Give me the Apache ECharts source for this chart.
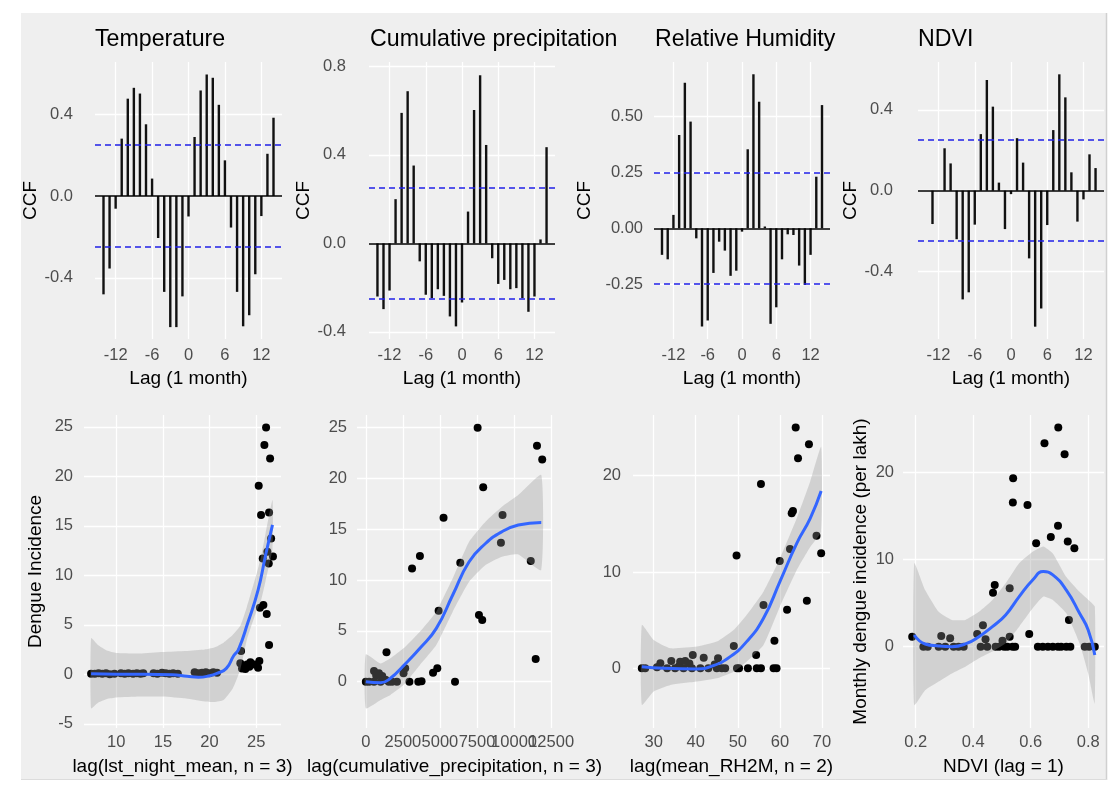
<!DOCTYPE html>
<html><head><meta charset="utf-8">
<script src="https://cdn.jsdelivr.net/npm/echarts@6/dist/echarts.min.js"></script>
<style>html,body{margin:0;padding:0;background:#fff}#c{width:1120px;height:789px}</style>
</head><body><div id="c"></div><script>
// ---------- DATA ----------
const lags = [-14,-13,-12,-11,-10,-9,-8,-7,-6,-5,-4,-3,-2,-1,0,1,2,3,4,5,6,7,8,9,10,11,12,13,14];
const tempCCF = [-0.48,-0.354,-0.062,0.28,0.475,0.528,0.50,0.35,0.085,-0.205,-0.468,-0.64,-0.64,-0.49,-0.10,0.288,0.515,0.593,0.577,0.445,0.174,-0.154,-0.468,-0.636,-0.582,-0.382,-0.098,0.206,0.382];
const precipCCF = [-0.24,-0.297,-0.213,0.2,0.59,0.688,0.352,-0.081,-0.232,-0.247,-0.207,-0.237,-0.33,-0.375,-0.267,0.144,0.603,0.76,0.445,-0.067,-0.183,-0.165,-0.207,-0.202,-0.247,-0.309,-0.24,0.018,0.435];
const rhCCF = [-0.119,-0.139,0.06,0.418,0.652,0.478,-0.045,-0.44,-0.413,-0.2,-0.06,-0.10,-0.213,-0.19,-0.015,0.354,0.69,0.567,0.008,-0.428,-0.354,-0.139,-0.027,-0.03,-0.167,-0.254,-0.119,0.231,0.552];
const ndviCCF = [0.0,-0.165,0.0,0.21,0.135,-0.24,-0.538,-0.503,-0.168,0.28,0.548,0.416,0.04,-0.19,-0.017,0.26,0.139,-0.335,-0.673,-0.583,-0.17,0.30,0.576,0.462,0.091,-0.153,-0.043,0.18,0.112];
const ccfConf = 0.25;
const ccfTitles = ['Temperature','Cumulative precipitation','Relative Humidity','NDVI'];

const tempPoints = [[26.06,24.93],[25.88,23.15],[26.49,21.8],[25.27,19.04],[25.52,16.08],[26.38,16.35],[26.6,13.73],[25.7,11.71],[26.2,12.38],[26.35,11.2],[26.8,11.91],[25.4,6.73],[25.77,7.0],[26.13,6.09],[26.38,2.96],[23.38,2.36],[23.3,1.11],[23.48,0.6],[24.02,1.0],[24.38,1.21],[24.84,1.0],[25.34,1.35],[25.2,0.67],[24.27,0.77],[23.84,0.54],
  [7.3,0.05],[7.7,0.05],[8.1,0.1],[8.5,0.05],[8.9,0.1],[9.3,0.0],[9.8,0.05],[10.5,0.1],[10.9,0.05],[11.3,0.1],[11.8,0.05],[12.2,0.1],[12.6,0.05],[12.9,0.1],[14.0,0.1],[14.4,0.05],[14.9,0.15],[15.3,0.1],[15.7,0.05],[16.1,0.1],[16.6,0.05],[18.4,0.2],[18.8,0.1],[19.2,0.15],[19.6,0.2],[20.0,0.1],[20.4,0.2],[20.8,0.15]];
const tempFit = [[7.3,0.05],[10,0.0],[13,0.0],[16,-0.05],[17.6,-0.2],[18.8,-0.3],[20,-0.15],[20.8,0.1],[21.8,0.6],[22.6,1.9],[23.1,2.5],[24.1,5.2],[25.2,8.5],[26.0,12.0],[26.75,15.1]];
const tempBand = [[7.3,-3.45,3.65],[8,-2.9,3.0],[9,-2.5,2.4],[10,-2.35,2.15],[12.5,-2.25,2.1],[15,-2.25,2.25],[17.5,-2.45,2.35],[19.5,-2.75,2.5],[20.5,-2.8,2.7],[21.5,-2.6,3.2],[22.5,-1.4,4.0],[23.3,0.5,4.9],[24.0,3.5,6.8],[25.0,6.3,10.0],[25.5,7.4,11.8],[26.0,9.4,14.2],[26.75,12.7,17.6]];

const precipPoints = [[7543,25.0],[11547,23.23],[11900,21.88],[7919,19.13],[5243,16.14],[9224,16.4],[9114,13.68],[3650,12.37],[3119,11.15],[6371,11.71],[11127,11.88],[4911,6.99],[7632,6.56],[7853,6.07],[1394,2.89],[11459,2.23],[2654,1.31],[2544,0.82],[4822,1.31],[4535,0.89],[553,1.05],[885,0.82],[1106,0.56],[6017,0],[3760,0.03],[3540,0],[2942,0],[2101,0],[1770,0],[1548,0],[0,0],[221,0],[553,0],[995,0],[1327,0.2],[700,0.6]];
const precipFit = [[0,0],[995,-0.1],[1659,0.33],[2544,1.57],[3650,3.28],[4756,5.25],[5862,8.53],[6968,11.8],[8074,13.6],[9180,14.76],[10286,15.42],[11834,15.68]];
const precipBand = [[0,-2.62,2.69],[995,-1.8,1.8],[1659,-1.3,2.3],[2544,-0.33,3.28],[3650,1.64,4.92],[4756,3.6,6.89],[5862,6.89,10.17],[6968,9.84,13.78],[8074,11.48,15.75],[9180,12.3,17.22],[10286,12.53,18.37],[11834,10.99,20.34]];

const rhPoints = [[63.75,25.0],[66.9,23.25],[64.3,21.8],[55.5,19.13],[62.8,16.09],[63.1,16.33],[68.7,13.77],[62.4,12.39],[69.8,11.94],[49.7,11.7],[59.96,11.14],[56.1,6.57],[66.4,7.02],[61.7,6.09],[58.7,2.87],[49.05,2.32],[54.35,1.38],[39.3,1.38],[41.9,1.1],[45.3,1.04],[34.2,0.76],[36.3,0.69],[37.5,0.76],[31.6,0.52],
  [27.2,0],[28.0,0],[30.8,0.1],[33.2,0],[35.1,0],[37.1,0],[39.1,0],[41.1,0],[43.0,0],[45.0,0],[46.2,0],[47.0,0],[49.8,0],[50.3,0],[52.4,0],[54.5,0],[55.5,0],[58.5,0],[59.2,0],[38.5,0.5],[36.0,0.2],[44.5,0.4]];
const rhFit = [[27.2,0.17],[32.4,0],[40.3,-0.07],[44.2,0.28],[48.2,1.21],[52.1,2.77],[56.1,5.19],[60,9.0],[64,12.98],[67.2,15.57],[69.8,18.41]];
const rhBand = [[27.2,-3.8,4.5],[30,-2.4,2.94],[34,-1.73,2.08],[40.3,-1.38,2.25],[45,-1.04,2.77],[49,-0.35,3.98],[52.1,0.69,5.54],[56.1,2.42,7.96],[60,6.4,11.4],[64,10.2,15.57],[67.2,12.6,19.4],[69.8,14.2,23.0]];

const ndviPoints = [[0.696,25.17],[0.648,23.37],[0.718,22.1],[0.539,19.35],[0.538,16.55],[0.589,16.28],[0.695,13.87],[0.67,12.6],[0.619,11.88],[0.729,12.07],[0.752,11.3],[0.475,7.09],[0.469,6.2],[0.527,6.7],[0.733,3.07],[0.434,2.45],[0.414,1.46],[0.595,1.46],[0.188,1.15],[0.289,1.23],[0.32,0.96],[0.527,1.15],[0.443,0.84],[0.502,0.69],
  [0.227,0],[0.242,0],[0.28,0],[0.303,0],[0.332,0],[0.349,0],[0.367,0],[0.426,0],[0.449,0],[0.478,0],[0.49,0],[0.508,0],[0.519,0],[0.537,0],[0.546,0],[0.625,0],[0.642,0],[0.66,0],[0.677,0],[0.695,0],[0.706,0],[0.724,0],[0.738,0],[0.788,0],[0.803,0],[0.823,0]];
const ndviFit = [[0.195,1.34],[0.233,0.31],[0.28,0.08],[0.326,0],[0.373,0.31],[0.42,1.15],[0.467,2.3],[0.513,3.64],[0.56,5.75],[0.607,7.66],[0.644,8.62],[0.677,8.24],[0.724,6.5],[0.77,3.83],[0.8,1.92],[0.823,-0.96]];
const ndviBand = [[0.195,-6.7,9.58],[0.233,-5.0,6.5],[0.28,-4.0,4.0],[0.326,-3.07,3.07],[0.373,-2.3,3.07],[0.42,-1.34,4.0],[0.467,-0.57,5.36],[0.513,0.38,7.28],[0.56,2.3,9.58],[0.607,4.4,10.9],[0.644,5.75,11.5],[0.677,5.36,10.7],[0.724,3.83,8.0],[0.77,0.38,6.3],[0.8,-3.07,5.4],[0.823,-6.5,4.6]];

const lagTicks = [-12,-6,0,6,12];
const ccfYTicks = [[-0.4,0,0.4],[-0.4,0,0.4,0.8],[-0.5,-0.25,0,0.25,0.5],[-0.4,0,0.4]];
const tempXTicks = [10,15,20,25], tempYTicks = [-5,0,5,10,15,20,25];
const precipXTicks = [0,2500,5000,7500,10000,12500], precipYTicks = [0,5,10,15,20,25];
const precipXLabelsA = [0,5000,10000], precipXLabelsB = [2500,7500,12500];
const rhXTicks = [30,40,50,60,70], rhYTicks = [0,10,20];
const ndviXTicks = [0.2,0.4,0.6,0.8], ndviYTicks = [0,10,20];
const xTitles = ['lag(lst_night_mean, n = 3)','lag(cumulative_precipitation, n = 3)','lag(mean_RH2M, n = 2)','NDVI (lag = 1)'];

// ---------- LAYOUT ----------
const FONT = "'Liberation Sans', Arial, Helvetica, sans-serif";
const BG = '#efefef';
const gridBoxes = [
  [95,62,187,277],[369,62,186,277],[654,62,176,277],[918,62,186,277],
  [84,415,197,313],[357,415,195,313],[633,415,197,313],[903,415,201,313]
];
const xRanges = [[-15.4,15.4],[-15.4,15.4],[-15.4,15.4],[-15.4,15.4],[6.54,27.66],[-595,12560],[25.1,71.9],[0.156,0.855]];
const yRanges = [[-0.698,0.654],[-0.432,0.820],[-0.496,0.745],[-0.734,0.637],[-5.42,26.19],[-4.56,26.25],[-6.2,26.3],[-9.34,26.6]];
const xTicksAll = [lagTicks,lagTicks,lagTicks,lagTicks,tempXTicks,precipXTicks,rhXTicks,ndviXTicks];
const xLabelsAll = [lagTicks,lagTicks,lagTicks,lagTicks,tempXTicks,precipXLabelsA,rhXTicks,ndviXTicks];
const yTicksAll = ccfYTicks.concat([tempYTicks,precipYTicks,rhYTicks,ndviYTicks]);
const yFmt = [v=>v.toFixed(1),v=>v.toFixed(1),v=>v.toFixed(2),v=>v.toFixed(1),v=>String(v),v=>String(v),v=>String(v),v=>String(v)];
const xFmt = [v=>String(v),v=>String(v),v=>String(v),v=>String(v),v=>String(v),v=>String(v),v=>String(v),v=>v.toFixed(1)];
const yLabelMargin = [22,23,11,25,11,10,12,9];
const yNames = ['CCF','CCF','CCF','CCF','Dengue Incidence','','','Monthly dengue incidence (per lakh)'];
const yNameGap = [52,52,60,51,38.5,0,0,32.5];

const grid = gridBoxes.map(b => ({left:b[0], top:b[1], width:b[2], height:b[3], show:false}));
const labelStyle = {color:'#4d4d4d', fontSize:16.5, fontFamily:FONT};
const xAxis = gridBoxes.map((b,i) => ({
  type:'value', gridIndex:i, min:xRanges[i][0], max:xRanges[i][1], position:'bottom',
  axisLine:{show:false}, axisTick:{show:false, customValues:xTicksAll[i]},
  axisLabel:Object.assign({customValues:xLabelsAll[i], formatter:xFmt[i], margin: i<4?8:6, hideOverlap:false, showMinLabel:true, showMaxLabel:true}, labelStyle),
  splitLine:{show:true, lineStyle:{color:'#ffffff', width:1.3}},
  name: i<4 ? 'Lag (1 month)' : xTitles[i-4], nameLocation:'middle', nameGap: i<4 ? 30 : 29.5,
  nameTextStyle:{color:'#000', fontSize:19, fontFamily:FONT}
}));
// second label layer for the crowded precipitation axis, so that every tick label is drawn (they overlap as in the original)
xAxis.push({
  type:'value', gridIndex:5, min:xRanges[5][0], max:xRanges[5][1], position:'bottom', offset:0,
  axisLine:{show:false}, axisTick:{show:false, customValues:precipXLabelsB},
  axisLabel:Object.assign({customValues:precipXLabelsB, formatter:v=>String(v), margin:6, hideOverlap:false, showMinLabel:true, showMaxLabel:true}, labelStyle),
  splitLine:{show:false}
});
const yAxis = gridBoxes.map((b,i) => ({
  type:'value', gridIndex:i, min:yRanges[i][0], max:yRanges[i][1],
  axisLine:{show:false}, axisTick:{show:false, customValues:yTicksAll[i]},
  axisLabel:Object.assign({customValues:yTicksAll[i], formatter:yFmt[i], margin:yLabelMargin[i], hideOverlap:false}, labelStyle),
  splitLine:{show:true, lineStyle:{color:'#ffffff', width:1.3}},
  name: yNames[i], nameLocation:'middle', nameGap:yNameGap[i],
  nameTextStyle:{color:'#000', fontSize:19, fontFamily:FONT}
}));

const series = [];
[tempCCF, precipCCF, rhCCF, ndviCCF].forEach((vals, i) => {
  series.push({
    type:'bar', xAxisIndex:i, yAxisIndex:i, barWidth:2.4, silent:true,
    itemStyle:{color:'#111'},
    data: lags.map((l,k) => [l, vals[k]]),
    markLine:{silent:true, symbol:['none','none'], label:{show:false}, animation:false,
      data:[
        {yAxis:0, lineStyle:{color:'#000', width:1.7, type:'solid'}},
        {yAxis:ccfConf, lineStyle:{color:'#2020e8', width:1.7, type:[6,4]}},
        {yAxis:-ccfConf, lineStyle:{color:'#2020e8', width:1.7, type:[6,4]}}
      ]}
  });
});
function bandSeries(gi, rows) {
  return {
    type:'custom', xAxisIndex:gi, yAxisIndex:gi, z:3, silent:true, clip:true,
    data:[[rows[0][0], rows[0][1]]],
    renderItem:function(params, api){
      const up = rows.map(r => api.coord([r[0], r[2]]));
      const lo = rows.slice().reverse().map(r => api.coord([r[0], r[1]]));
      return {type:'polygon', shape:{points:up.concat(lo), smooth:0.15}, style:{fill:'rgba(150,150,150,0.33)'}};
    }
  };
}
[[tempPoints,tempFit,tempBand],[precipPoints,precipFit,precipBand],[rhPoints,rhFit,rhBand],[ndviPoints,ndviFit,ndviBand]].forEach((set, j) => {
  const gi = j + 4;
  series.push({type:'scatter', xAxisIndex:gi, yAxisIndex:gi, z:2, symbolSize:8, silent:true, itemStyle:{color:'#000', opacity:1}, data:set[0]});
  series.push(bandSeries(gi, set[2]));
  series.push({type:'line', xAxisIndex:gi, yAxisIndex:gi, z:4, smooth:true, symbol:'none', silent:true,
    lineStyle:{color:'#3366ff', width:3}, data:set[1]});
});

const title = ccfTitles.map((t,i) => ({text:t, left:[95,370,655,918][i], top:28, padding:0,
  textStyle:{color:'#000', fontSize:23.2, fontWeight:'normal', fontFamily:FONT}}));

const chart = echarts.init(document.getElementById('c'), null, {renderer:'canvas'});
chart.setOption({
  animation:false,
  backgroundColor:BG,
  textStyle:{fontFamily:FONT},
  title, grid, xAxis, yAxis, series,
  graphic:[
    {type:'rect', z:100, shape:{x:0,y:0,width:21,height:789}, style:{fill:'#fff'}, silent:true},
    {type:'rect', z:100, shape:{x:0,y:0,width:1120,height:13}, style:{fill:'#fff'}, silent:true},
    {type:'rect', z:100, shape:{x:1107,y:0,width:13,height:789}, style:{fill:'#fff'}, silent:true},
    {type:'rect', z:100, shape:{x:0,y:780,width:1120,height:9}, style:{fill:'#fff'}, silent:true},
    {type:'line', z:101, shape:{x1:1106.5,y1:13,x2:1106.5,y2:780}, style:{stroke:'#d0d0d0', lineWidth:1.5}, silent:true},
    {type:'line', z:101, shape:{x1:21,y1:779.5,x2:1107,y2:779.5}, style:{stroke:'#dcdcdc', lineWidth:1}, silent:true}
  ]
});
</script></body></html>
